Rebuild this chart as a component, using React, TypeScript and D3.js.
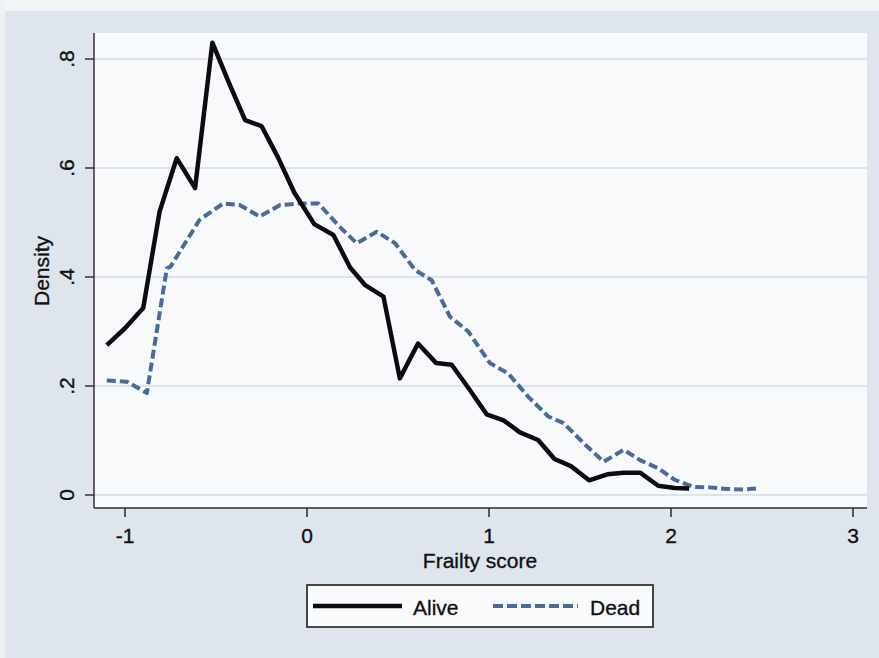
import React from "react";
import * as d3 from "d3";

const aliveX = [-1.10, -1.00, -0.90, -0.81, -0.716, -0.615, -0.52, -0.43, -0.34, -0.25, -0.16, -0.07, 0.04, 0.145, 0.236, 0.32, 0.42, 0.51, 0.61, 0.71, 0.795, 0.89, 0.987, 1.08, 1.17, 1.27, 1.36, 1.45, 1.55, 1.65, 1.74, 1.83, 1.93, 2.02, 2.10];
const aliveY = [0.275, 0.306, 0.343, 0.52, 0.618, 0.563, 0.83, 0.757, 0.688, 0.677, 0.62, 0.555, 0.497, 0.477, 0.418, 0.385, 0.364, 0.214, 0.278, 0.242, 0.239, 0.195, 0.148, 0.137, 0.115, 0.101, 0.066, 0.053, 0.027, 0.038, 0.041, 0.041, 0.017, 0.013, 0.012];

const deadX = [-1.10, -0.99, -0.88, -0.77, -0.75, -0.59, -0.46, -0.37, -0.26, -0.148, -0.038, 0.062, 0.18, 0.273, 0.383, 0.484, 0.593, 0.685, 0.786, 0.886, 1.005, 1.106, 1.216, 1.326, 1.41, 1.52, 1.63, 1.74, 1.83, 1.93, 2.02, 2.12, 2.21, 2.31, 2.40, 2.47];
const deadY = [0.21, 0.208, 0.187, 0.416, 0.419, 0.505, 0.535, 0.532, 0.511, 0.532, 0.535, 0.535, 0.492, 0.462, 0.483, 0.462, 0.413, 0.394, 0.327, 0.30, 0.242, 0.223, 0.18, 0.144, 0.132, 0.095, 0.061, 0.083, 0.064, 0.049, 0.028, 0.015, 0.014, 0.011, 0.010, 0.012];

const xTicks = [-1, 0, 1, 2, 3];
const xTickLabels = ["-1", "0", "1", "2", "3"];
const yTicks = [0, 0.2, 0.4, 0.6, 0.8];
const yTickLabels = ["0", ".2", ".4", ".6", ".8"];

const seriesNames = ["Alive", "Dead"];

export default function App() {
  const W = 879, H = 658;
  const plotL = 94, plotR = 867, plotT = 33, plotB = 508;
  const x = d3.scaleLinear().domain([-1, 3]).range([125, 853]);
  const y = d3.scaleLinear().domain([0, 0.8]).range([495, 59]);
  const font = "'Liberation Sans', Arial, Helvetica, sans-serif";
  const fs = 21;
  const txt = { fontSize: fs, fill: "#111", stroke: "#111", strokeWidth: 0.35 } as const;

  const line = d3.line<[number, number]>().x(d => x(d[0])).y(d => y(d[1]));
  const alivePts = aliveX.map((v, i) => [v, aliveY[i]] as [number, number]);
  const deadPts = deadX.map((v, i) => [v, deadY[i]] as [number, number]);

  const deadColor = "#4b6a9b";
  const aliveColor = "#0b0b14";

  return (
    <svg width={W} height={H} style={{ position: "absolute", left: 0, top: 0 }} fontFamily={font}>
      <rect x={0} y={0} width={W} height={H} fill="#dfe5ec" />
      <rect x={0} y={0} width={W} height={11} fill="#f2f4f6" />
      <rect x={0} y={0} width={5} height={H} fill="#eef1f4" />
      <rect x={plotL} y={plotT} width={plotR - plotL} height={plotB - plotT} fill="#f7f9fa" />
      {yTicks.map(t => (
        <line key={"g" + t} x1={plotL} x2={plotR} y1={y(t)} y2={y(t)} stroke="#d2dbe6" strokeWidth={1.5} />
      ))}
      <line x1={plotL} x2={plotL} y1={plotT} y2={plotB} stroke="#3b2c33" strokeWidth={1.5} />
      <line x1={plotL} x2={plotR} y1={plotB} y2={plotB} stroke="#2a2a2e" strokeWidth={1.5} />
      {yTicks.map((t, i) => (
        <g key={"yt" + t}>
          <line x1={plotL - 9} x2={plotL} y1={y(t)} y2={y(t)} stroke="#3b2c33" strokeWidth={1.5} />
          <text transform={`translate(74,${y(t)}) rotate(-90)`} textAnchor="middle" {...txt}>
            {yTickLabels[i]}
          </text>
        </g>
      ))}
      {xTicks.map((t, i) => (
        <g key={"xt" + t}>
          <line x1={x(t)} x2={x(t)} y1={plotB} y2={plotB + 9} stroke="#2a2a2e" strokeWidth={1.5} />
          <text x={x(t)} y={543} textAnchor="middle" {...txt}>
            {xTickLabels[i]}
          </text>
        </g>
      ))}
      <text x={480} y={568} textAnchor="middle" {...txt}>Frailty score</text>
      <text transform={`translate(49,271) rotate(-90)`} textAnchor="middle" {...txt}>Density</text>

      <path d={line(deadPts) || ""} fill="none" stroke={deadColor} strokeWidth={4} strokeDasharray="9,4" strokeLinejoin="round" />
      <path d={line(alivePts) || ""} fill="none" stroke={aliveColor} strokeWidth={4.5} strokeLinejoin="round" />

      <rect x={307} y={585} width={346} height={42} fill="#f9fafb" stroke="#111" strokeWidth={1.5} />
      <line x1={313} x2={402} y1={606} y2={606} stroke={aliveColor} strokeWidth={4.5} />
      <text x={413} y={615} {...txt}>{seriesNames[0]}</text>
      <line x1={493} x2={578} y1={606} y2={606} stroke={deadColor} strokeWidth={4} strokeDasharray="10,4" />
      <text x={590} y={615} {...txt}>{seriesNames[1]}</text>
    </svg>
  );
}
